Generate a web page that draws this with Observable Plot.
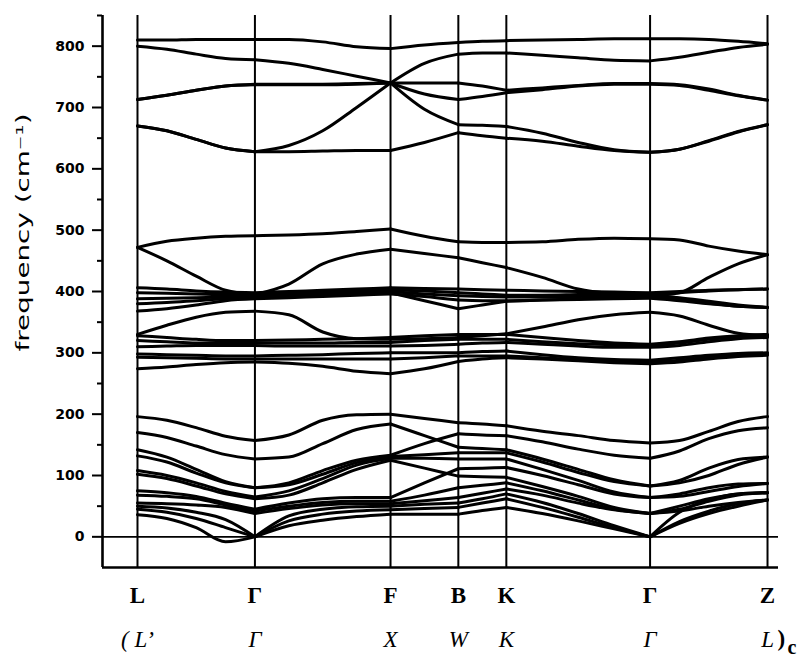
<!DOCTYPE html>
<html><head><meta charset="utf-8">
<script src="https://cdn.jsdelivr.net/npm/d3@7"></script>
<script src="https://cdn.jsdelivr.net/npm/@observablehq/plot@0.6"></script>
<style>body{margin:0;background:#fff}</style>
</head><body><div id="chart"></div>
<script>
// high-symmetry points along the path (path length, 2π/a units)
const kPoints = [0, 0.866, 1.866, 2.366, 2.720, 3.780, 4.646];
const topLabels = ["L", "Γ", "F", "B", "K", "Γ", "Z"];
const bottomLabels = ["( L’", "Γ", "X", "W", "K", "Γ", "L"];
// sample positions at which band values were read
const kSamples = [0, 0.2165, 0.433, 0.6495, 0.866, 1.116, 1.366, 1.616, 1.866, 2.116, 2.366, 2.543, 2.720, 2.985, 3.250, 3.515, 3.780, 3.9965, 4.213, 4.4295, 4.646];
const segmentStarts = [0, 4, 8, 10, 12, 16, 20];
const majorTicks = [0, 100, 200, 300, 400, 500, 600, 700, 800];
const minorTicks = [50, 150, 250, 350, 450, 550, 650, 750, 850];
const xDomain = [-0.258, 4.727];
const yDomain = [-50, 850];

// high-frequency bands (cm-1)
const high1 = [810,810,811,811,811, 811,807,799,796, 802,806, 808,809, 810,811,812,812, 812,811,808,804];
const high2 = [800,795,787,780,778, 772,762,751,740, 772,787, 789,789, 785,781,777,776, 782,790,798,803];
const high3 = [713,720,728,735,738, 738,738,739,740, 740,740, 735,728, 732,736,739,739, 737,730,720,712];
const high4 = [713,720,728,735,737, 737,737,738,740, 722,713, 718,724, 729,735,738,738, 736,728,719,712];
const high5 = [670,662,648,634,628, 638,662,700,740, 697,672, 671,669, 658,643,631,627, 632,645,660,672];
const high6 = [670,662,648,634,628, 628,629,630,630, 643,659, 654,650, 645,637,630,627, 632,646,661,672];
// 400-500 bands
const mid1 = [472,482,487,490,491, 492,494,498,502, 490,481, 480,480, 481,485,487,486, 484,474,466,460];
const mid2 = [472,450,425,402,395, 412,445,461,469, 462,455, 447,439, 423,404,396,393, 398,423,445,460];
// 360-410 bands
const up1 = [406,404,401,399,398, 400,402,404,406, 405,404, 403,402, 401,400,399,398, 400,402,403,404];
const up2 = [398,397,396,395,395, 397,399,401,403, 401,398, 396,394, 394,395,396,396, 398,401,403,404];
const up3 = [388,389,390,391,392, 394,396,398,400, 396,393, 392,391, 391,392,393,394, 390,384,378,374];
const up4 = [380,382,385,388,390, 392,394,396,398, 385,372, 378,384, 386,388,390,391, 387,381,376,374];
const up5 = [368,372,378,385,388, 390,392,394,396, 392,386, 385,385, 386,387,388,389, 385,380,376,374];
const hump = [330,345,358,366,368, 362,334,323,322, 323,325, 328,331, 342,354,362,366, 360,345,332,328];
// 265-330 bands
const lo1 = [328,325,322,320,320, 321,322,323,325, 328,330, 330,330, 325,320,316,314, 318,324,328,330];
const lo2 = [320,318,316,316,316, 316,316,317,317, 320,322, 322,322, 318,315,313,312, 316,322,326,327];
const lo3 = [310,311,312,312,312, 311,311,311,311, 312,314, 316,317, 314,311,309,309, 312,318,323,325];
const lo4 = [298,297,296,295,295, 296,297,299,300, 300,300, 302,303, 297,292,289,288, 292,296,299,300];
const lo5 = [293,292,291,290,290, 290,290,290,290, 292,295, 295,295, 292,289,286,285, 288,293,297,298];
const lo6 = [274,277,281,284,285, 283,278,270,266, 274,286, 290,292, 290,287,284,282, 285,290,294,296];
// low-frequency bands
const d1 = [196,190,178,164,157, 166,190,199,200, 193,186, 184,181, 172,165,157,153, 157,172,188,196];
const d2 = [170,162,148,134,127, 130,152,175,184, 165,146, 144,142, 127,110,93,83, 92,112,126,130];
const d3 = [142,130,110,90,80, 88,108,125,133, 152,168, 166,165, 155,143,133,128, 140,160,173,178];
const d4 = [132,122,104,88,80, 85,102,121,131, 134,137, 137,137, 122,105,90,83, 88,100,118,130];
const d5 = [108,100,88,74,65, 75,95,117,128, 128,127, 127,127, 110,92,73,64, 70,80,86,87];
const d6 = [102,95,83,70,62, 68,88,110,125, 112,99, 98,97, 82,66,48,38, 50,62,70,72];
const d7 = [75,72,66,55,45, 55,62,64,64, 88,111, 112,113, 100,85,70,64, 66,74,82,87];
const d8 = [68,66,62,52,42, 50,56,58,58, 68,80, 84,88, 75,60,45,38, 45,58,68,72];
const d9 = [55,54,52,48,38, 46,52,54,54, 59,64, 71,78, 68,55,44,38, 42,50,56,60];
const d10 = [50,47,40,28,0, 34,45,49,50, 53,55, 62,70, 56,38,18,0, 40,60,70,72];
const d11 = [45,40,30,15,0, 26,37,42,44, 46,48, 55,62, 48,32,15,0, 22,38,50,60];
const d12 = [36,30,15,-8,0, 18,27,33,37, 37,37, 43,48, 38,26,13,0, 25,42,54,60];

const bands = {high1, high2, high3, high4, high5, high6, mid1, mid2, up1, up2, up3, up4, up5, hump,
  lo1, lo2, lo3, lo4, lo5, lo6, d1, d2, d3, d4, d5, d6, d7, d8, d9, d10, d11, d12};

const rows = [];
for (const [name, vals] of Object.entries(bands)) {
  for (let s = 0; s < segmentStarts.length - 1; s++) {
    for (let i = segmentStarts[s]; i <= segmentStarts[s + 1]; i++) {
      rows.push({x: kSamples[i], y: vals[i], z: name + "-" + s});
    }
  }
}

const serif = "'Liberation Serif', 'Times New Roman', serif";
const plot = Plot.plot({
  width: 809, height: 659,
  marginLeft: 102, marginRight: 31, marginTop: 15, marginBottom: 92,
  x: {domain: xDomain, axis: null},
  y: {domain: yDomain, axis: null, label: null},
  style: {background: "white", color: "black", overflow: "visible"},
  marks: [
    Plot.ruleX(kPoints, {y1: yDomain[0], y2: yDomain[1], stroke: "black", strokeWidth: 2}),
    Plot.ruleY([0], {stroke: "black", strokeWidth: 1.6}),
    Plot.ruleY([yDomain[0]], {stroke: "black", strokeWidth: 2.6}),
    Plot.ruleX([xDomain[0]], {y1: yDomain[0], y2: yDomain[1], stroke: "black", strokeWidth: 2.6}),
    Plot.line(rows, {x: "x", y: "y", z: "z", curve: "monotone-x", stroke: "black", strokeWidth: 3}),
    Plot.axisY({ticks: majorTicks, tickSize: 10, tickPadding: 8, fontSize: 14, fontWeight: "bold",
      fontFamily: "'DejaVu Sans', sans-serif", strokeWidth: 2, label: null, tickFormat: d => String(d)}),
    Plot.axisY({ticks: minorTicks, tickSize: 5, strokeWidth: 2, label: null, tickFormat: () => ""}),
    Plot.text(kPoints, {x: d => d, frameAnchor: "bottom", text: topLabels, dy: 28, textAnchor: "middle",
      lineAnchor: "middle", fontSize: 23, fontWeight: "bold", fontFamily: serif}),
    Plot.text(kPoints, {x: d => d, frameAnchor: "bottom", text: bottomLabels, dy: 72, textAnchor: "middle",
      lineAnchor: "middle", fontSize: 23, fontStyle: "italic", fontFamily: serif}),
    Plot.text([kPoints[6]], {x: d => d, frameAnchor: "bottom", text: [")"], dx: 10, dy: 71, textAnchor: "start",
      lineAnchor: "middle", fontSize: 23, fontWeight: "bold", fontFamily: serif}),
    Plot.text([kPoints[6]], {x: d => d, frameAnchor: "bottom", text: ["c"], dx: 20, dy: 80, textAnchor: "start",
      lineAnchor: "middle", fontSize: 20, fontWeight: "bold", fontFamily: serif}),
    Plot.text(["frequency (cm⁻¹)"], {frameAnchor: "left", rotate: -90, dx: -79, dy: -59, textAnchor: "middle",
      lineAnchor: "middle", fontSize: 17, fontFamily: "'DejaVu Sans', sans-serif"})
  ]
});
document.getElementById("chart").append(plot);
for (const t of plot.querySelectorAll("text")) {
  if (t.textContent.startsWith("frequency")) {
    t.setAttribute("textLength", "238");
    t.setAttribute("lengthAdjust", "spacingAndGlyphs");
  }
}
</script>
</body></html>
